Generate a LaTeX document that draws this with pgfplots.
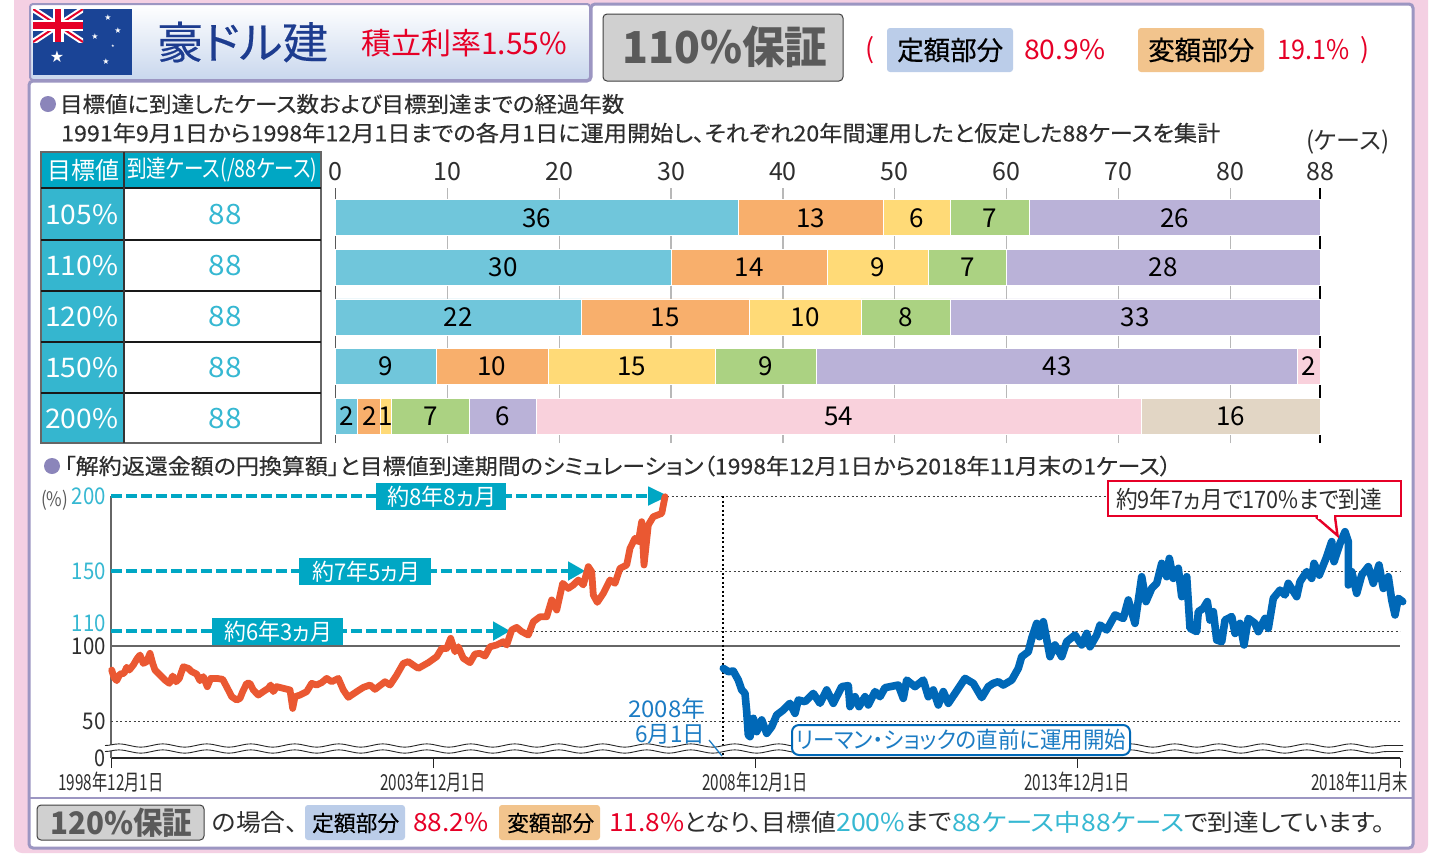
\documentclass[border=0pt]{standalone}
\usepackage{graphicx}
\usepackage{fontspec}
\setmainfont[RawFeature={+palt}]{Noto Sans CJK JP}
\newfontfamily\med[RawFeature={+palt},FakeBold=0.35]{Noto Sans CJK JP}
\newfontfamily\djv{DejaVu Sans}
\usepackage{pgfplots}
\pgfplotsset{compat=1.18}
\usetikzlibrary{decorations.pathmorphing}
\definecolor{cTeal}{HTML}{00A7C4}
\definecolor{cTealB}{HTML}{35B6CF}
\definecolor{cCy}{HTML}{36B8D2}
\definecolor{cRed}{HTML}{E60027}
\definecolor{cInk}{HTML}{2E2E2E}
\definecolor{cPink}{HTML}{F4D0E3}
\definecolor{cLav}{HTML}{9C96C2}
\definecolor{cBul}{HTML}{8B85BA}
\definecolor{cNavy}{HTML}{1D3C8F}
\definecolor{cFlag}{HTML}{1A4496}
\definecolor{cGB}{HTML}{D0D0D0}
\definecolor{cGT}{HTML}{5A5A5A}
\definecolor{cBoxB}{HTML}{BBCDE9}
\definecolor{cBoxO}{HTML}{F2C48D}
\definecolor{cOr}{HTML}{EA5832}
\definecolor{cBl}{HTML}{0068B7}
\definecolor{cBl2}{HTML}{1C7CC4}
\definecolor{s1}{HTML}{70C6DB}
\definecolor{s2}{HTML}{F8AF6C}
\definecolor{s3}{HTML}{FFDA77}
\definecolor{s4}{HTML}{ABD282}
\definecolor{s5}{HTML}{BAB2D8}
\definecolor{s6}{HTML}{F9D1DC}
\definecolor{s7}{HTML}{E2D6C5}
% \T[anchor]{x}{y}{width}{size}{colour}{text}
\newcommand\T[7][west]{\node[anchor=#1,inner sep=0pt,text=#6] at (#2,#3) {\fontsize{#5}{#5}\selectfont\resizebox{#4pt}{\height}{#7}};}
\newcommand\XL[1]{\fontsize{22}{22}\selectfont\resizebox{105pt}{\height}{#1}}
\newcommand\YL[3]{\fontsize{23}{23}\selectfont\textcolor{#1}{\resizebox{#2pt}{\height}{#3}}}
\newcommand\BL[3]{\node[inner sep=0pt,text=black,font=\fontsize{26}{26}\selectfont] at (axis cs:#1,#2) {#3};}
\begin{document}
\begin{tikzpicture}
\path[use as bounding box] (0,0) rectangle (1437pt,-855pt);
\begin{scope}[x=1pt,y=-1pt]
\fill[white] (0,0) rectangle (1437,855);
\fill[cPink,rounded corners=8] (14,-12) rectangle (1428,853);
\draw[cLav,line width=3,fill=white,rounded corners=4] (29,81)--(591,81)--(591,4)--(1413,4)--(1413,848)--(29,848)--cycle;
\draw[cLav,line width=1.5] (30,798)--(1412,798);
\shade[top color=white,bottom color=cBoxB!80,rounded corners=3] (30,4) rectangle (590,80);
\draw[cLav,line width=2,rounded corners=3] (30,4) rectangle (590,80);
% flag
\fill[cFlag] (33,9) rectangle (132,75);
\begin{scope}
\clip (33,9) rectangle (83,42);
\draw[white,line width=6] (33,9)--(83,42) (83,9)--(33,42);
\draw[cRed,line width=2] (33,9)--(83,42) (83,9)--(33,42);
\draw[white,line width=11] (58,9)--(58,42) (33,25.5)--(83,25.5);
\draw[cRed,line width=6.5] (58,9)--(58,42) (33,25.5)--(83,25.5);
\end{scope}
\foreach \a/\b/\s in {57/57/16,108/18/8,118/31/8,95/37/8,113/46/4,106/62/8}{
  \node[inner sep=0,text=white] at (\a,\b) {\djv\fontsize{\s}{\s}\selectfont ★};}
\T{157}{42}{171}{44}{cNavy}{\med 豪ドル建}
\T{361}{43}{206}{30}{cRed}{積立利率1.55\%}
% guarantee header
\draw[black!75,fill=cGB,line width=1,rounded corners=4] (603,14) rectangle (843,81);
\T{622}{47}{205}{44}{cGT}{\bfseries 110\%保証}
\T[center]{870}{50}{9}{27}{cRed}{(}
\fill[cBoxB,rounded corners=3] (887,28) rectangle (1013,72);
\T{897}{50}{106}{26.5}{black}{\med 定額部分}
\T{1024}{50}{81}{27}{cRed}{80.9\%}
\fill[cBoxO,rounded corners=3] (1138,28) rectangle (1264,72);
\T{1148}{50}{106}{26.5}{black}{\med 変額部分}
\T{1277}{50}{72}{27}{cRed}{19.1\%}
\T[center]{1365}{50}{9}{27}{cRed}{)}
% first heading
\fill[cBul] (48,104) circle (8);
\T{60}{104}{564}{21.7}{cInk}{\med 目標値に到達したケース数および目標到達までの経過年数}
\T{61}{133}{1159}{22}{cInk}{\med 1991年9月1日から1998年12月1日までの各月1日に運用開始し、それぞれ20年間運用したと仮定した88ケースを集計}
\T{1306}{142}{83}{24}{cInk}{(ケース)}
% table
\fill[cTeal] (41,152) rectangle (321,188);
\fill[cTealB] (41,188) rectangle (124,443);
\draw[black!60,line width=1.5] (41,152) rectangle (321,443);
\foreach \yy in {188,240,291,342,393}{\draw[black!90,line width=1.2] (41,\yy)--(321,\yy);}
\draw[black!80,line width=1.2] (124,152)--(124,443);
\T{47}{170}{72}{24}{white}{目標値}
\T{127}{170}{190}{24}{white}{到達ケース(/88ケース)}
\foreach \yy/\lab in {215/105,266/110,317/120,368/150,419/200}{
  \T{45}{\yy}{73}{27}{white}{\lab\%}
  \T[center]{225}{\yy}{33}{28}{cCy}{88}
}
% second heading
\fill[cBul] (52,466) circle (8);
\T{64}{466}{1107}{21.7}{cInk}{\med 「解約返還金額の円換算額」と目標値到達期間のシミュレーション（1998年12月1日から2018年11月末の1ケース）}
\end{scope}

% ---------- stacked bars
\begin{axis}[at={(335.3pt,-443pt)},anchor=south west,scale only axis,width=984.7pt,height=255pt,
  xbar stacked,bar width=36pt,xmin=0,xmax=88,ymin=0.455,ymax=5.602,
  axis line style={draw=none},tick style={draw=none},
  ytick=\empty,xtick={0,10,20,30,40,50,60,70,80,88},
  xticklabel pos=upper,xmajorgrids,grid style={black!28,line width=1.2pt},
  /pgf/number format/assume math mode=true,
  xticklabel style={font=\fontsize{25}{25}\selectfont,text=cInk,inner sep=0pt,yshift=7pt},
  clip=false]
\addplot[fill=s1,draw=white,line width=.8pt] coordinates {(36,5) (30,4) (22,3) (9,2) (2,1)};
\addplot[fill=s2,draw=white,line width=.8pt] coordinates {(13,5) (14,4) (15,3) (10,2) (2,1)};
\addplot[fill=s3,draw=white,line width=.8pt] coordinates {(6,5) (9,4) (10,3) (15,2) (1,1)};
\addplot[fill=s4,draw=white,line width=.8pt] coordinates {(7,5) (7,4) (8,3) (9,2) (7,1)};
\addplot[fill=s5,draw=white,line width=.8pt] coordinates {(26,5) (28,4) (33,3) (43,2) (6,1)};
\addplot[fill=s6,draw=white,line width=.8pt] coordinates {(0,5) (0,4) (0,3) (2,2) (54,1)};
\addplot[fill=s7,draw=white,line width=.8pt] coordinates {(0,5) (0,4) (0,3) (0,2) (16,1)};
\draw[black!65,line width=1.2pt] (axis cs:0,0.455)--(axis cs:0,5.602);
\draw[black,line width=1.2pt] (axis cs:88,0.455)--(axis cs:88,5.602);
\end{axis}
% bar values, on top of the stacked bars
\begin{axis}[at={(335.3pt,-443pt)},anchor=south west,scale only axis,width=984.7pt,height=255pt,
  xmin=0,xmax=88,ymin=0.455,ymax=5.602,hide axis,clip=false]
\BL{18}{5}{36}\BL{42.5}{5}{13}\BL{52}{5}{6}\BL{58.5}{5}{7}\BL{75}{5}{26}
\BL{15}{4}{30}\BL{37}{4}{14}\BL{48.5}{4}{9}\BL{56.5}{4}{7}\BL{74}{4}{28}
\BL{11}{3}{22}\BL{29.5}{3}{15}\BL{42}{3}{10}\BL{51}{3}{8}\BL{71.5}{3}{33}
\BL{4.5}{2}{9}\BL{14}{2}{10}\BL{26.5}{2}{15}\BL{38.5}{2}{9}\BL{64.5}{2}{43}\BL{87}{2}{2}
\BL{1}{1}{2}\BL{3.1}{1}{2}\BL{4.5}{1}{1}\BL{8.5}{1}{7}\BL{15}{1}{6}\BL{45}{1}{54}\BL{80}{1}{16}
\end{axis}

% ---------- line chart
\begin{axis}[at={(111pt,-758pt)},anchor=south west,scale only axis,width=1289pt,height=262pt,
  xmin=0,xmax=1289,ymin=25.33,ymax=200,clip=false,
  axis x line=bottom,axis y line=left,
  x axis line style={-,black!85,line width=1.3pt},
  y axis line style={-,black!60,line width=2pt},
  xtick={0,322,644,966,1289},
  xticklabels={\XL{1998年12月1日},\XL{2003年12月1日},\XL{2008年12月1日},\XL{2013年12月1日},{\makebox[16pt][r]{\fontsize{22}{22}\selectfont\resizebox{97pt}{\height}{2018年11月末}}}},
  xtick style={draw=black!85,line width=1pt},
  tick align=outside,major tick length=10pt,
  xticklabel style={inner sep=0pt,text=cInk,yshift=-4pt},
  ytick={25.33,50,100,110,150,200},
  yticklabels={\YL{cInk}{11}{0},\YL{cInk}{23}{50},\YL{cInk}{34}{100},\raisebox{16pt}{\YL{cCy}{34}{110}},\YL{cCy}{34}{150},\raisebox{-8pt}{\YL{cCy}{34}{200}}},
  ytick style={draw=none},
  yticklabel style={inner sep=0pt,xshift=5pt}]
% reference lines
\draw[black!75,line width=1pt,dash pattern=on 2pt off 2.5pt] (axis cs:0,50)--(axis cs:1289,50);
\draw[black!75,line width=1pt,dash pattern=on 2pt off 2.5pt] (axis cs:398,110)--(axis cs:1289,110);
\draw[black!75,line width=1pt,dash pattern=on 2pt off 2.5pt] (axis cs:474,150)--(axis cs:1289,150);
\draw[black!75,line width=1pt,dash pattern=on 2pt off 2.5pt] (axis cs:556,200)--(axis cs:1289,200);
\draw[black!60,line width=1.6pt] (axis cs:0,100)--(axis cs:1289,100);
\draw[black,line width=1.6pt,dash pattern=on 2pt off 2.5pt] (axis cs:612,200)--(axis cs:612,25.33);
% target arrows
\draw[cTeal,line width=3.4pt,dash pattern=on 11pt off 4pt] (axis cs:0,200)--(axis cs:537,200);
\draw[cTeal,line width=3.4pt,dash pattern=on 11pt off 4pt] (axis cs:0,150)--(axis cs:457,150);
\draw[cTeal,line width=3.4pt,dash pattern=on 11pt off 4pt] (axis cs:0,110)--(axis cs:382,110);
\fill[cTeal] (axis cs:537,206.5)--(axis cs:537,193.5)--(axis cs:557,200)--cycle;
\fill[cTeal] (axis cs:457,156.5)--(axis cs:457,143.5)--(axis cs:474,150)--cycle;
\fill[cTeal] (axis cs:382,116.5)--(axis cs:382,103.5)--(axis cs:399,110)--cycle;
% yen value, start 1998-12-01
\addplot[cOr,line width=6.8pt,line join=round,line cap=round] coordinates {
(0.7,84) (3,79.1) (5.7,76.9) (9,81.3) (13,81.8) (15.7,85.8) (18.3,84) (22.3,87.3) (26.3,91.8) (29,94)
(32.3,88.4) (35.7,89.6) (39,95.1) (41.7,88.4) (44,84) (49,80.7) (54,77.3) (58.3,75.1) (61.7,80) (65,76.2)
(68.3,78.4) (72.3,86.2) (77.3,85.1) (80.7,82.9) (85.7,81.3) (89,76.9) (92.3,79.6) (96.3,72.9) (99.7,78.4) (105.7,78.4)
(111.7,77.8) (117.3,70.7) (120.7,66.2) (125.7,64) (129,65.1) (131.7,69.6) (135.7,75.1) (139,75.1) (142.3,70.7) (147.3,67.3)
(152.3,69.6) (157.3,71.8) (159.7,74) (162.3,69.6) (165.7,72.9) (172.3,71.8) (179,70.7) (181.7,58.4) (184,66.2) (189,67.3)
(195.7,69.6) (200.7,75.1) (205.7,74) (210.7,75.6) (215.7,78.4) (220.7,76.2) (227.3,78.4) (232.3,70.7) (237.3,65.8) (245.7,69.6)
(252.3,72.4) (259,74) (264,71.1) (274,76.2) (279,74) (285.7,80.7) (292.3,88.4) (297.3,89.6) (302.3,87.3) (307.3,85.1)
(317.3,88.9) (325.7,92.9) (330.7,98.4) (335.7,98.4) (339.7,105.1) (344,96.2) (347.3,99.5) (352.3,91.8) (359,88.9) (364,94.7)
(369,95.1) (374,93.3) (379,99.5) (385.7,100.7) (392.3,102.9) (395.7,100.7) (400.7,110.7) (405.7,112.4) (410.7,109.6) (417.3,107.3)
(422.3,116.2) (429,119.5) (435.7,119.5) (440.7,130.7) (445.7,124) (451.7,141.8) (457.3,138.4) (462.3,140.7) (467.3,144) (472.3,140.7)
(477.3,152.9) (480.7,149.5) (482.3,134) (486.3,129.1) (492.3,135.1) (499,144) (504,141.8) (509,151.8) (515.7,154) (519,165.1)
(524,171.8) (527.3,169.5) (530.7,182.9) (533,154) (537.3,180.7) (542.3,186.2) (550.7,188.4) (554,199.5)};
% yen value, start 2008-06-01
\addplot[cBl,line width=7.6pt,line join=round,line cap=round] coordinates {
(612.3,85.1) (617.3,82.9) (622.3,83.3) (627.3,77.3) (630.7,70.7) (634,68.4) (635.7,56.2) (637.3,40.7) (639,39.6) (642.3,51.8)
(645.7,42.9) (650.7,50.7) (655.7,41.8) (660.7,46.2) (665.7,54) (672.3,57.3) (679,61.8) (684,55.1) (687.3,64) (694,62.9)
(702.3,68.4) (709,61.8) (715.7,70.7) (722.3,61.8) (730.7,72.9) (737.3,73.6) (739,59.6) (744,66.2) (748,59.6) (754,66.2)
(757.3,60.7) (764,69.6) (769,66.2) (774,72.2) (787.3,74) (792.3,65.1) (795.7,77.3) (804,72.9) (812.3,77.3) (817.3,66.2)
(822.3,70.7) (827.3,60.7) (832.3,69.6) (837.3,61.8) (844,68.4) (854,78.4) (862.3,75.1) (870.7,65.6) (877.3,72.9) (882.3,75.1)
(887.3,76.2) (892.3,74) (900.7,77.3) (907.3,85.1) (910.7,92.9) (917.3,96.2) (920.7,105.1) (925.7,115.1) (928.3,106.2) (932.3,116.2)
(939,92.9) (944,100.7) (950.7,92.9) (955.7,102.9) (964,107.3) (970.7,100.7) (975.7,108.4) (979,99.5) (985.7,107.3) (989,114)
(995.7,110.7) (1004,120.7) (1012.3,118.4) (1017.3,130.7) (1024,115.1) (1030.7,146.2) (1035,129.6) (1040.7,138.4) (1045.7,141.8) (1050.7,155.1)
(1055.7,146.2) (1058.3,158.4) (1062.3,145.1) (1067.3,151.8) (1070.7,132.9) (1075.7,146.2) (1079,111.8) (1085.7,109.6) (1087.3,122.9) (1092.3,125.1)
(1096.3,129.6) (1099,117.3) (1102.3,122.9) (1105.7,104) (1110.7,102.9) (1114,117.3) (1120.7,119.6) (1124,108.4) (1129,115.1) (1133,100.7)
(1137.3,118.4) (1144,115.1) (1147.3,109.6) (1154,118.4) (1157.3,111.8) (1162.3,131.8) (1169,137.3) (1174,134) (1177.3,141.8) (1185.7,132.9)
(1189,142.9) (1195.7,149.6) (1200.7,145.1) (1203,155.1) (1208.3,147.3) (1215.7,159.6) (1220.7,169.6) (1223,156.2) (1229,168.4) (1234,176.2)
(1237.3,169.6) (1237.3,140.7) (1240.7,149.6) (1245.7,135.1) (1250.7,147.3) (1257.3,152.9) (1262.3,141.8) (1268,154) (1272.3,138.4) (1277.3,146.2)
(1280.7,130.7) (1284,120.7) (1287.3,131.8) (1291.7,129.6)};
\end{axis}

\begin{scope}[x=1pt,y=-1pt]
% axis break
\begin{scope}[decoration={snake,amplitude=1.6pt,segment length=44pt}]
\draw[white,line width=6,decorate] (105,748.5)--(1403,748.5);
\draw[black!85,line width=.9,decorate] (105,745.5)--(1403,745.5);
\draw[black!85,line width=.9,decorate] (105,751.5)--(1403,751.5);
\end{scope}
\T{41}{500}{27}{20}{black!65}{(\%)}
% arrow labels
\fill[cTeal] (375.6,483) rectangle (506.4,510);
\T{387}{497}{109}{23}{white}{約8年8ヵ月}
\fill[cTeal] (299.4,558) rectangle (430.7,585);
\T{312}{571.5}{108}{23}{white}{約7年5ヵ月}
\fill[cTeal] (211.7,618) rectangle (342.5,645);
\T{224}{631.5}{108}{23}{white}{約6年3ヵ月}
% callout
\draw[cRed,line width=2.4,fill=white] (1108,481) rectangle (1401,516);
\filldraw[fill=white,draw=cRed,line width=2.4,line join=miter] (1316,517)--(1337.5,535.5)--(1335,517);
\fill[white] (1317.5,514) rectangle (1333.5,518.5);
\T{1116}{499}{266}{24}{cInk}{約9年7ヵ月で170\%まで到達}
% Lehman
\T{628}{709}{77}{23}{cBl2}{2008年}
\T{635}{734}{70}{23}{cBl2}{6月1日}
\draw[cBl2,line width=1.3] (709,740)--(722,756);
\draw[cBl,line width=2,fill=white,rounded corners=7] (792,725) rectangle (1130,755);
\T{796}{740}{330}{23}{cBl2}{リーマン・ショックの直前に運用開始}
% bottom strip
\draw[black!75,fill=cGB,line width=1,rounded corners=4] (37,805) rectangle (204,840);
\T{50}{822.5}{142}{31}{cGT}{\bfseries 120\%保証}
\T{212}{822}{86}{24}{cInk}{の場合、}
\fill[cBoxB,rounded corners=3] (305,805) rectangle (405,840);
\T{312}{823}{87}{22}{black}{\med 定額部分}
\T{413}{822}{75}{25}{cRed}{88.2\%}
\fill[cBoxO,rounded corners=3] (499,805) rectangle (600,840);
\T{507}{823}{87}{22}{black}{\med 変額部分}
\T{609}{822}{75}{25}{cRed}{11.8\%}
\T{684}{822}{152}{24}{cInk}{となり、目標値}
\T{836}{822}{69}{25}{cCy}{200\%}
\T{905}{822}{47}{24}{cInk}{まで}
\T{952}{822}{232}{24}{cCy}{88ケース中88ケース}
\T{1184}{822}{201}{24}{cInk}{で到達しています。}
\end{scope}
\end{tikzpicture}
\end{document}
